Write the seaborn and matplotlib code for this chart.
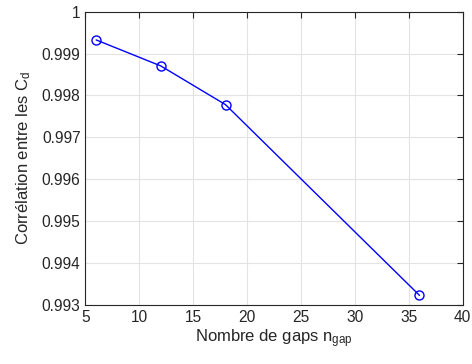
import matplotlib
matplotlib.use("Agg")
import matplotlib.pyplot as plt
import seaborn as sns
import pandas as pd

n_gap = [6, 12, 18, 36]
correlation = [0.999325, 0.998704, 0.997781, 0.993231]
xticks = [5, 10, 15, 20, 25, 30, 35, 40]
yticks = [0.993, 0.994, 0.995, 0.996, 0.997, 0.998, 0.999, 1.0]
ytick_labels = ["0.993", "0.994", "0.995", "0.996", "0.997", "0.998", "0.999", "1"]

sns.set_style("white")
plt.rcParams['font.family'] = ['Liberation Sans', 'DejaVu Sans']
plt.rcParams['mathtext.fontset'] = 'custom'
plt.rcParams['mathtext.rm'] = 'Liberation Sans'
plt.rcParams['mathtext.it'] = 'Liberation Sans'

txt = '#262626'
df = pd.DataFrame({"n": n_gap, "c": correlation})

fig = plt.figure(figsize=(4.72, 3.64), dpi=100)
ax = fig.add_axes([0.181, 0.162, 0.799, 0.806])
sns.lineplot(data=df, x="n", y="c", ax=ax, color=(0, 0, 1), linewidth=1.0,
             marker='o', markersize=6.5, markerfacecolor='none',
             markeredgecolor=(0, 0, 1), markeredgewidth=1.0)

ax.set_xlim(5, 40)
ax.set_ylim(0.993, 1.0)
ax.set_xticks(xticks)
ax.set_xticklabels([str(v) for v in xticks])
ax.set_yticks(yticks)
ax.set_yticklabels(ytick_labels)
ax.grid(True, color='#e3e3e3', linewidth=0.8)
ax.set_axisbelow(True)
for s in ax.spines.values():
    s.set_color(txt)
    s.set_linewidth(0.8)
ax.tick_params(direction='in', length=4, width=0.8, colors=txt, labelsize=11.2,
               top=True, right=True, labelcolor=txt)
ax.set_xlabel(r'Nombre de gaps n$_\mathrm{gap}$', fontsize=12, color=txt, labelpad=2)
ax.set_ylabel(r'Corrélation entre les C$_\mathrm{d}$', fontsize=12, color=txt, labelpad=6)

fig.savefig("out.png", dpi=100)
